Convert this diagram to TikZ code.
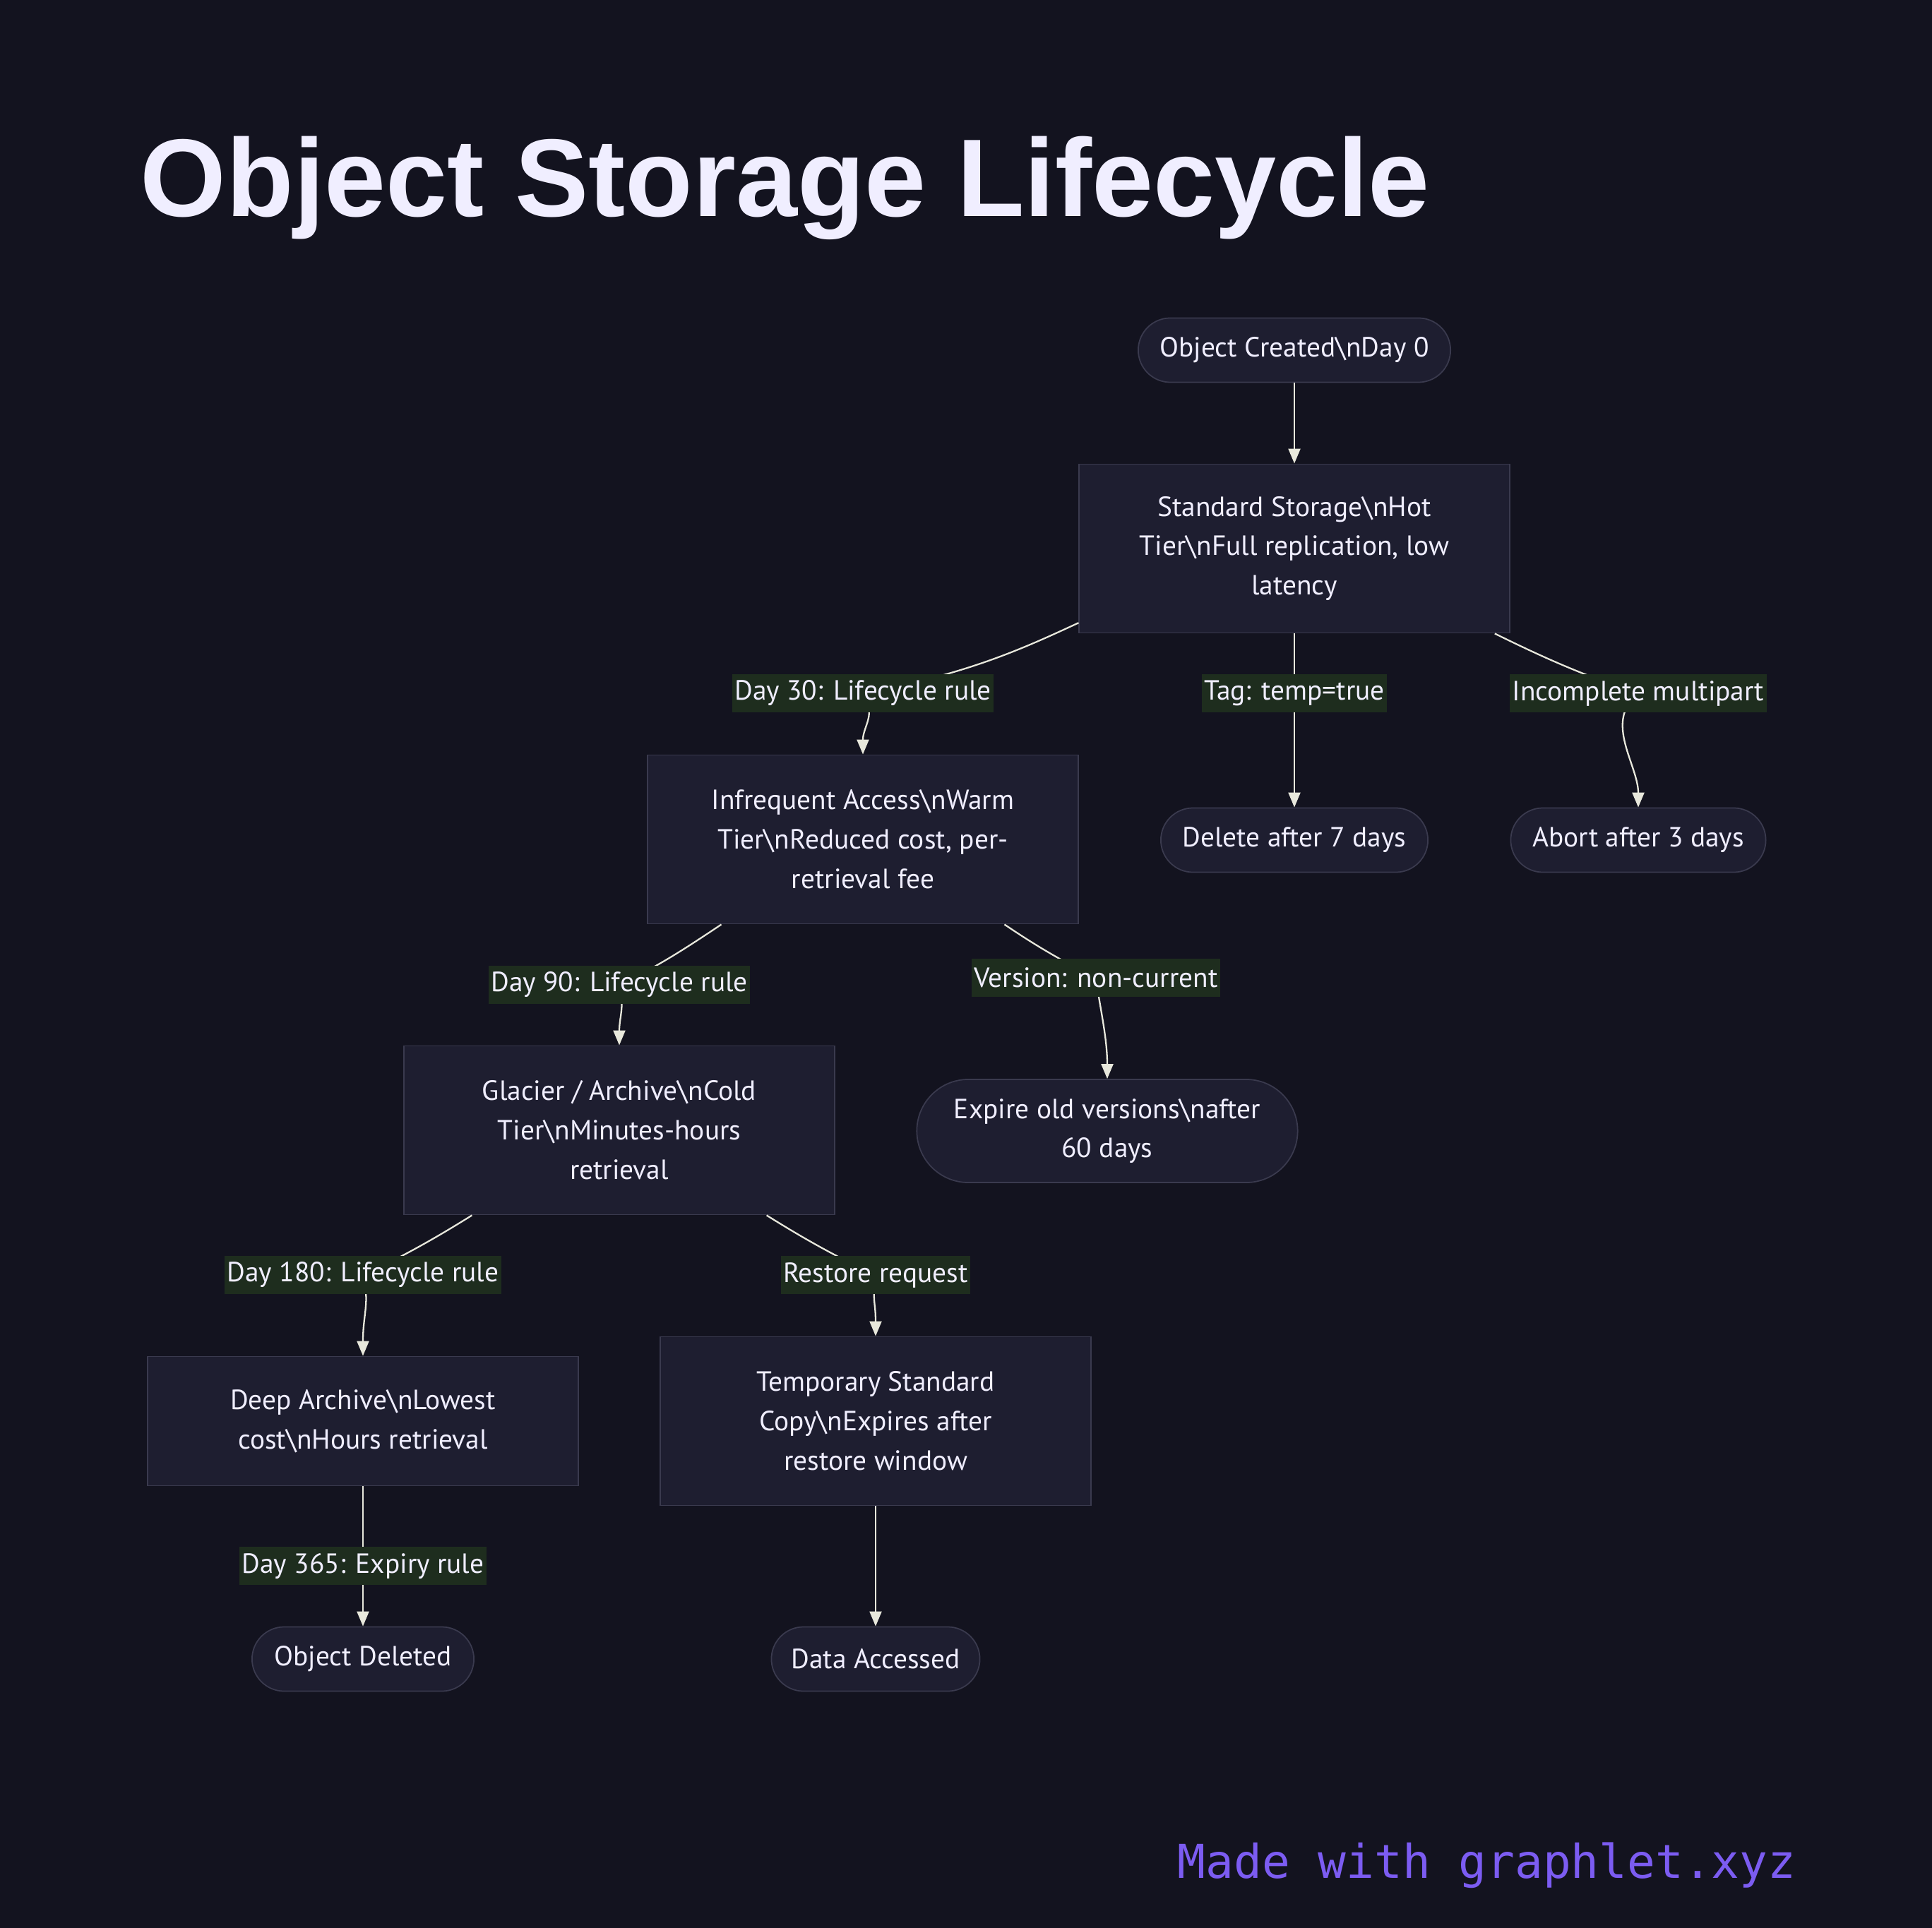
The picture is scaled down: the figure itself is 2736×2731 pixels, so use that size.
\documentclass[tikz,border=0pt]{standalone}
\usepackage{fontspec}
\setmainfont{PT Sans}
\newfontfamily\titlefont{Liberation Sans}
\newfontfamily\footfont{DejaVu Sans Mono}
\definecolor{bgdark}{RGB}{19, 19, 31}
\definecolor{nodefill}{RGB}{30, 30, 48}
\definecolor{nodeline}{RGB}{58, 58, 78}
\definecolor{lblgreen}{RGB}{30, 45, 30}
\definecolor{textwhite}{RGB}{240, 238, 255}
\definecolor{edgecream}{RGB}{232, 232, 220}
\definecolor{footviolet}{RGB}{124, 92, 242}
\usetikzlibrary{arrows.meta, positioning}
\newcommand{\lcfont}{\fontsize{11.2}{15.9}\selectfont}

\begin{document}
\begin{tikzpicture}[x=0.01cm, y=0.01cm,
  box/.style={draw=nodeline, fill=nodefill, line width=0.5pt, text=textwhite, align=center,
    font=\lcfont, minimum width=6.09cm, minimum height=2.39cm, inner sep=0pt},
  pill/.style={draw=nodeline, fill=nodefill, line width=0.5pt, text=textwhite, align=center,
    font=\lcfont, minimum height=0.91cm, rounded corners=0.455cm, inner sep=0pt},
  edgelbl/.style={fill=lblgreen, text=textwhite, font=\lcfont, inner xsep=1pt, inner ysep=0pt,
    minimum height=0.54cm},
  edge/.style={draw=edgecream, line width=0.65pt, -{Triangle[length=2.1mm, width=1.7mm]}}
]
  % Background
  \fill[bgdark] (0,0) rectangle (2736,-2731);
  \useasboundingbox (0,0) rectangle (2736,-2731);

  % Title
  \node[anchor=base west, inner sep=0pt, text=textwhite,
    font={\titlefont\fontsize{44.5}{50}\selectfont\bfseries}] (title) at (198,-307) {Object Storage Lifecycle};

  % Tiers
  \node[pill, minimum width=4.42cm] (oc) at (1833,-496) {Object Created\textbackslash nDay 0};
  \node[box] (ss) at (1833,-777) {Standard Storage\textbackslash nHot\\Tier\textbackslash nFull replication, low\\latency};
  \node[box] (ia) at (1222,-1189) {Infrequent Access\textbackslash nWarm\\Tier\textbackslash nReduced cost, per-\\retrieval fee};
  \node[pill, minimum width=3.78cm] (del) at (1833,-1190) {Delete after 7 days};
  \node[pill, minimum width=3.61cm] (abt) at (2320,-1190) {Abort after 3 days};
  \node[box] (gl) at (877,-1601) {Glacier / Archive\textbackslash nCold\\Tier\textbackslash nMinutes-hours\\retrieval};
  \node[pill, minimum width=5.39cm, minimum height=1.46cm, rounded corners=0.73cm] (exp) at (1568,-1602) {Expire old versions\textbackslash nafter\\60 days};
  \node[box, minimum height=1.83cm] (da) at (514,-2013) {Deep Archive\textbackslash nLowest\\cost\textbackslash nHours retrieval};
  \node[box] (tmp) at (1240,-2013) {Temporary Standard\\Copy\textbackslash nExpires after\\restore window};
  \node[pill, minimum width=3.14cm] (od) at (514,-2350) {Object Deleted};
  \node[pill, minimum width=2.95cm] (acc) at (1240,-2350) {Data Accessed};

  % Label spots
  \coordinate (c30) at (1222,-982);
  \coordinate (ctag) at (1833,-982);
  \coordinate (cmp) at (2320,-982);
  \coordinate (c90) at (877,-1395);
  \coordinate (cver) at (1552,-1385);
  \coordinate (c180) at (514,-1806);
  \coordinate (crst) at (1240,-1806);
  \coordinate (c365) at (514,-2218);

  % Transitions
  \draw[edge] (oc) -- (ss);
  \draw[edge] (ss.199) .. controls +(-80,-37) and +(148,27) .. (c30) .. controls +(20,-30) and +(0,40) .. (ia.north);
  \draw[edge] (ss.south) -- (ctag) -- (del.north);
  \draw[edge] (ss.-23) .. controls +(61,-30) and +(-81,26) .. (cmp) .. controls +(-50,-40) and +(0,60) .. (abt.north);
  \draw[edge] (ia.-149) .. controls +(-45,-30) and +(57,27) .. (c90) .. controls +(8,-30) and +(0,40) .. (gl.north);
  \draw[edge] (ia.-31) .. controls +(37,-25) and +(-55,27) .. (cver) .. controls +(5,-40) and +(0,60) .. (exp.north);
  \draw[edge] (gl.-150) .. controls +(-48,-30) and +(57,26) .. (c180) .. controls +(10,-40) and +(0,60) .. (da.north);
  \draw[edge] (gl.-30) .. controls +(48,-30) and +(-57,26) .. (crst) .. controls +(-5,-40) and +(0,50) .. (tmp.north);
  \draw[edge] (da.south) -- (c365) -- (od.north);
  \draw[edge] (tmp) -- (acc);

  % Edge labels
  \node[edgelbl] (l30) at (c30) {Day 30: Lifecycle rule};
  \node[edgelbl] (ltag) at (ctag) {Tag: temp=true};
  \node[edgelbl] (lmp) at (cmp) {Incomplete multipart};
  \node[edgelbl] (l90) at (c90) {Day 90: Lifecycle rule};
  \node[edgelbl] (lver) at (cver) {Version: non-current};
  \node[edgelbl] (l180) at (c180) {Day 180: Lifecycle rule};
  \node[edgelbl] (lrst) at (crst) {Restore request};
  \node[edgelbl] (l365) at (c365) {Day 365: Expiry rule};

  % Footer
  \node[anchor=base west, inner sep=0pt, text=footviolet,
    font={\footfont\fontsize{18.8}{22}\selectfont}] (credit) at (1667,-2660) {Made with graphlet.xyz};
\end{tikzpicture}
\end{document}
